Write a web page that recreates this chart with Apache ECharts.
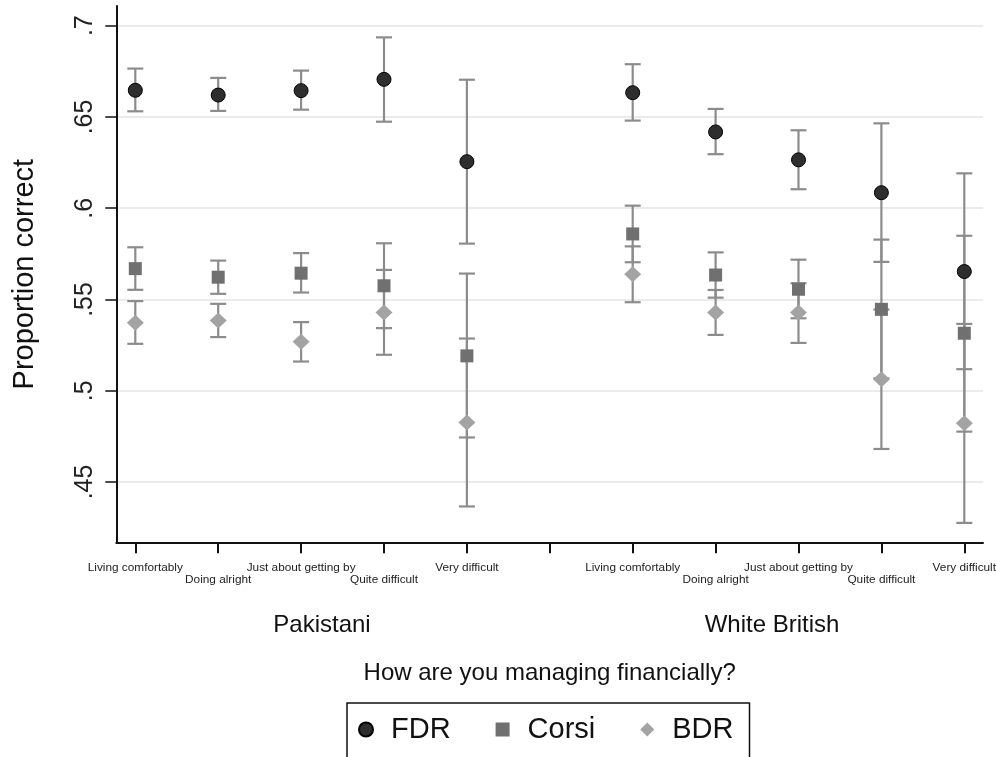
<!DOCTYPE html>
<html>
<head>
<meta charset="utf-8">
<script src="https://cdn.jsdelivr.net/npm/echarts@6/dist/echarts.min.js"></script>
<style>
html,body{margin:0;padding:0;background:#fff;}
#chart{width:997px;height:757px;}
</style>
</head>
<body>
<div id="chart"></div>
<script>
// ---- data ----
const categories = ['Living comfortably', 'Doing alright', 'Just about getting by', 'Quite difficult', 'Very difficult'];
const groups = ['Pakistani', 'White British'];
const methods = ['FDR', 'Corsi', 'BDR'];
const yTicks = [0.45, 0.5, 0.55, 0.6, 0.65, 0.7];
const yTickLabels = ['.45', '.5', '.55', '.6', '.65', '.7'];

const FDR_Pakistani      = [0.6646, 0.6620, 0.6644, 0.6706, 0.6255];
const FDR_Pakistani_lo   = [0.6531, 0.6533, 0.6540, 0.6474, 0.5806];
const FDR_Pakistani_hi   = [0.6765, 0.6714, 0.6754, 0.6936, 0.6704];
const Corsi_Pakistani    = [0.5669, 0.5622, 0.5644, 0.5575, 0.5191];
const Corsi_Pakistani_lo = [0.5553, 0.5531, 0.5538, 0.5343, 0.4744];
const Corsi_Pakistani_hi = [0.5786, 0.5713, 0.5754, 0.5808, 0.5642];
const BDR_Pakistani      = [0.5372, 0.5385, 0.5268, 0.5428, 0.4826];
const BDR_Pakistani_lo   = [0.5257, 0.5294, 0.5160, 0.5197, 0.4366];
const BDR_Pakistani_hi   = [0.5491, 0.5476, 0.5376, 0.5662, 0.5286];

const FDR_WhiteBritish      = [0.6633, 0.6418, 0.6265, 0.6085, 0.5653];
const FDR_WhiteBritish_lo   = [0.6480, 0.6296, 0.6104, 0.5706, 0.5118];
const FDR_WhiteBritish_hi   = [0.6789, 0.6544, 0.6427, 0.6465, 0.6191];
const Corsi_WhiteBritish    = [0.5859, 0.5634, 0.5556, 0.5446, 0.5315];
const Corsi_WhiteBritish_lo = [0.5704, 0.5510, 0.5397, 0.5068, 0.4776];
const Corsi_WhiteBritish_hi = [0.6014, 0.5758, 0.5718, 0.5828, 0.5849];
const BDR_WhiteBritish      = [0.5638, 0.5429, 0.5429, 0.5063, 0.4822];
const BDR_WhiteBritish_lo   = [0.5485, 0.5306, 0.5262, 0.4681, 0.4276];
const BDR_WhiteBritish_hi   = [0.5791, 0.5552, 0.5589, 0.5445, 0.5366];

// ---- assembly ----
const table = {
  FDR:   [[FDR_Pakistani, FDR_Pakistani_lo, FDR_Pakistani_hi], [FDR_WhiteBritish, FDR_WhiteBritish_lo, FDR_WhiteBritish_hi]],
  Corsi: [[Corsi_Pakistani, Corsi_Pakistani_lo, Corsi_Pakistani_hi], [Corsi_WhiteBritish, Corsi_WhiteBritish_lo, Corsi_WhiteBritish_hi]],
  BDR:   [[BDR_Pakistani, BDR_Pakistani_lo, BDR_Pakistani_hi], [BDR_WhiteBritish, BDR_WhiteBritish_lo, BDR_WhiteBritish_hi]]
};
const step = categories.length + 1;
function xPos(g, i) { return g * step + i + 1; }
const xTickValues = [];
const xTickText = {};
groups.forEach((g, gi) => {
  categories.forEach((c, ci) => { const x = xPos(gi, ci); xTickValues.push(x); xTickText[x] = c; });
  if (gi < groups.length - 1) { const x = xPos(gi, categories.length); xTickValues.push(x); xTickText[x] = ''; }
});

const FONT = '"Liberation Sans", Arial, Helvetica, sans-serif';
const style = {
  FDR:   { symbol: 'circle', size: 14, color: '#2e2e2e', border: '#000', bw: 1 },
  Corsi: { symbol: 'rect', size: 13, color: '#707070', border: '#707070', bw: 0 },
  BDR:   { symbol: 'diamond', size: [17, 16], color: '#a3a3a3', border: '#a3a3a3', bw: 0 }
};
const barColor = '#8c8c8c';

function renderBar(params, api) {
  const x = api.value(0), lo = api.value(1), hi = api.value(2);
  const a = api.coord([x, lo]), b = api.coord([x, hi]);
  const hw = 8;
  const st = { stroke: barColor, lineWidth: 2.2 };
  return {
    type: 'group',
    children: [
      { type: 'line', shape: { x1: a[0], y1: a[1], x2: b[0], y2: b[1] }, style: st },
      { type: 'line', shape: { x1: a[0] - hw, y1: a[1], x2: a[0] + hw, y2: a[1] }, style: st },
      { type: 'line', shape: { x1: b[0] - hw, y1: b[1], x2: b[0] + hw, y2: b[1] }, style: st }
    ]
  };
}

const series = [];
methods.forEach(m => {
  const d = [];
  table[m].forEach((grp, gi) => {
    grp[0].forEach((v, ci) => d.push([xPos(gi, ci), grp[1][ci], grp[2][ci]]));
  });
  series.push({
    type: 'custom', name: m + ' CI', renderItem: renderBar, data: d,
    encode: { x: 0, y: [1, 2] }, z: 2, silent: true
  });
});
methods.forEach((m, mi) => {
  const d = [];
  table[m].forEach((grp, gi) => {
    grp[0].forEach((v, ci) => d.push([xPos(gi, ci), v]));
  });
  const s = style[m];
  series.push({
    type: 'scatter', name: m, data: d, symbol: s.symbol, symbolSize: s.size,
    itemStyle: { color: s.color, borderColor: s.border, borderWidth: s.bw, opacity: 1 },
    z: 3 + mi, silent: true
  });
});

const chart = echarts.init(document.getElementById('chart'), null, { renderer: 'canvas' });
chart.setOption({
  animation: false,
  backgroundColor: '#fff',
  textStyle: { fontFamily: FONT },
  grid: { left: 116.3, right: 14, top: 6, bottom: 214.7, containLabel: false, outerBoundsMode: 'none' },
  xAxis: {
    type: 'value', min: 0.7708, max: 11.2256,
    axisLine: { show: true, onZero: false, lineStyle: { color: '#111', width: 2 } },
    axisTick: { show: true, length: 11, lineStyle: { color: '#111', width: 2 }, customValues: xTickValues },
    axisLabel: {
      customValues: xTickValues, margin: 19, fontSize: 11.8, color: '#222', fontFamily: FONT, lineHeight: 12.5,
      formatter: v => { const t = xTickText[v] || ''; const idx = Math.round(v) % step; return (idx % 2 === 0 && t) ? '\n' + t : t; }
    },
    splitLine: { show: false },
    name: 'How are you managing financially?', nameLocation: 'middle', nameGap: 119,
    nameTextStyle: { fontSize: 24, color: '#111', fontFamily: FONT }
  },
  yAxis: {
    type: 'value', min: 0.41696, max: 0.71079,
    axisLine: { show: true, onZero: false, lineStyle: { color: '#111', width: 2 } },
    axisTick: { show: true, length: 11, lineStyle: { color: '#111', width: 1.5 }, customValues: yTicks },
    axisLabel: {
      customValues: yTicks, rotate: 90, margin: 19, fontSize: 25, color: '#222', fontFamily: FONT,
      formatter: v => { const i = yTicks.findIndex(t => Math.abs(t - v) < 1e-9); return i >= 0 ? yTickLabels[i] : ''; }
    },
    splitLine: { show: true, lineStyle: { color: '#ebebeb', width: 1.8 } },
    name: 'Proportion correct', nameLocation: 'middle', nameGap: 77, nameRotate: 90,
    nameTextStyle: { fontSize: 29, color: '#111', fontFamily: FONT }
  },
  legend: {
    data: methods, left: 347, top: 703, orient: 'horizontal',
    itemWidth: 14, itemHeight: 14, itemGap: 45, selectedMode: false,
    padding: [12, 16, 20, 11], borderColor: '#111', borderWidth: 1.5, borderRadius: 0,
    textStyle: { fontSize: 29, color: '#111', fontFamily: FONT, padding: [0, 0, 0, 13] }
  },
  graphic: [
    { type: 'text', x: 322, y: 625, style: { text: groups[0], font: '24px ' + FONT, fill: '#111', textAlign: 'center', textVerticalAlign: 'middle' } },
    { type: 'text', x: 772, y: 625, style: { text: groups[1], font: '24px ' + FONT, fill: '#111', textAlign: 'center', textVerticalAlign: 'middle' } }
  ],
  series: series
});
</script>
</body>
</html>
